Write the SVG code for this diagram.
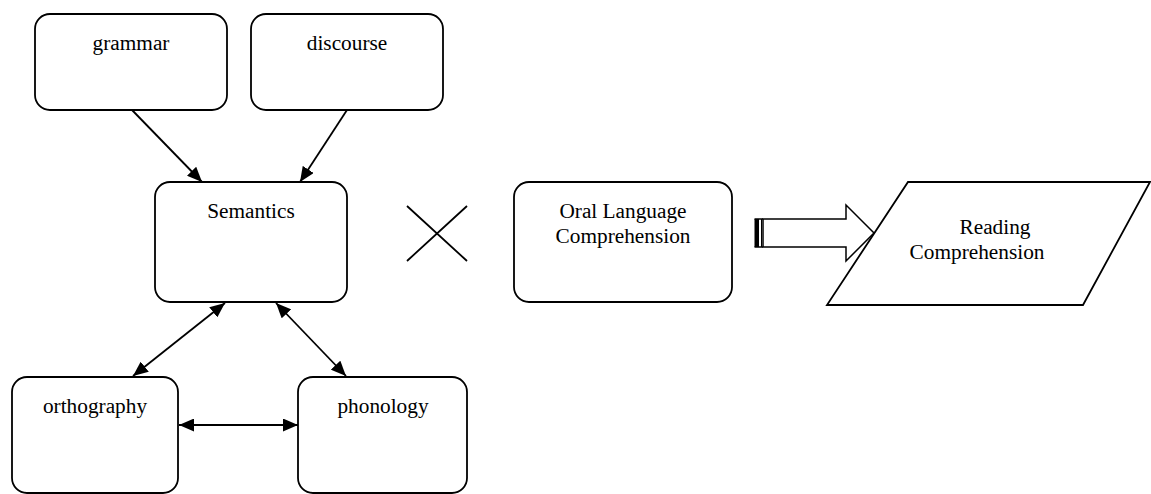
<svg xmlns="http://www.w3.org/2000/svg" width="1151" height="494" viewBox="0 0 1151 494">
<defs>
<style>
.box{fill:#fff;stroke:#000;stroke-width:1.8}
.lbl{font-family:"Liberation Serif","Times New Roman",serif;font-size:21.3px;fill:#000;text-anchor:middle}
.con{stroke:#000;stroke-width:1.8;fill:none}
</style>
<marker id="ah" viewBox="0 0 15 13" refX="15" refY="6.5" markerWidth="15" markerHeight="13" markerUnits="userSpaceOnUse" orient="auto-start-reverse">
<path d="M0,0 L15,6.5 L0,13 z" fill="#000"/>
</marker>
</defs>
<rect width="1151" height="494" fill="#fff"/>
<g id="grammar"><rect class="box" x="35" y="14" width="192" height="96" rx="15"/><text class="lbl" x="131" y="50">grammar</text></g>
<g id="discourse"><rect class="box" x="251" y="14" width="192" height="96" rx="15"/><text class="lbl" x="347" y="50">discourse</text></g>
<g id="semantics"><rect class="box" x="155" y="182" width="192" height="120" rx="15"/><text class="lbl" x="251" y="218">Semantics</text></g>
<g id="orthography"><rect class="box" x="12" y="377" width="166" height="116" rx="15"/><text class="lbl" x="95" y="413">orthography</text></g>
<g id="phonology"><rect class="box" x="298" y="377" width="169" height="116" rx="15"/><text class="lbl" x="383" y="413">phonology</text></g>
<g id="times"><path class="con" d="M407,206 L467,261 M467,206 L407,261"/></g>
<g id="oral"><rect class="box" x="514" y="182" width="218" height="120" rx="15"/><text class="lbl" x="623" y="218">Oral Language</text><text class="lbl" x="623" y="243">Comprehension</text></g>
<g id="reading"><polygon class="box" points="908,182 1150,182 1083,305 827,305"/><text class="lbl" x="995" y="234">Reading</text><text class="lbl" x="977" y="259">Comprehension</text></g>
<g id="connectors">
<line class="con" x1="132" y1="110" x2="202" y2="182" marker-end="url(#ah)"/>
<line class="con" x1="347" y1="110" x2="300" y2="182" marker-end="url(#ah)"/>
<line class="con" x1="133" y1="376" x2="225" y2="303" marker-start="url(#ah)" marker-end="url(#ah)"/>
<line class="con" x1="276" y1="303" x2="346" y2="376" marker-start="url(#ah)" marker-end="url(#ah)"/>
<line class="con" x1="179" y1="425" x2="298" y2="425" marker-start="url(#ah)" marker-end="url(#ah)"/>
<g id="striped-arrow">
<rect x="754.5" y="219" width="4.5" height="28" fill="#000"/>
<line x1="761.5" y1="219" x2="761.5" y2="247" stroke="#000" stroke-width="1"/>
<polygon points="763,219 846,219 846,205 874,233 846,261 846,247 763,247" fill="#fff" stroke="#000" stroke-width="1.5"/>
<line x1="754.5" y1="219" x2="763" y2="219" stroke="#000" stroke-width="1.5"/>
<line x1="754.5" y1="247" x2="763" y2="247" stroke="#000" stroke-width="1.5"/>
</g>
</g>
</svg>
